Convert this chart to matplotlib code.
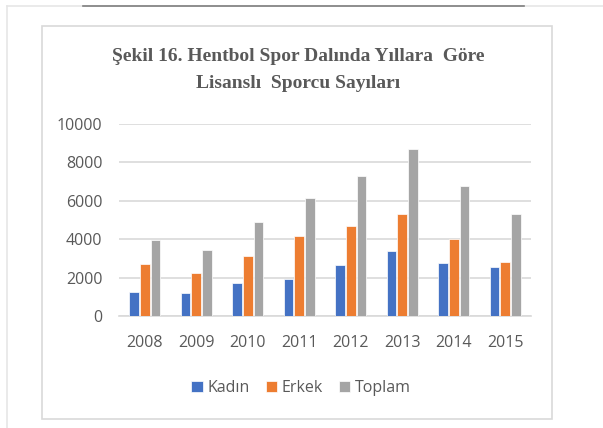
import numpy as np
import matplotlib
matplotlib.use('Agg')
import matplotlib.pyplot as plt
from matplotlib.lines import Line2D
from matplotlib.patches import Rectangle

years = ['2008', '2009', '2010', '2011', '2012', '2013', '2014', '2015']
kadin = [1230, 1180, 1740, 1910, 2640, 3370, 2740, 2540]
erkek = [2690, 2240, 3140, 4150, 4670, 5330, 3990, 2810]
toplam = [3960, 3420, 4880, 6130, 7310, 8720, 6750, 5330]

series = ['Kadın', 'Erkek', 'Toplam']
colors = ['#4472C4', '#ED7D31', '#A5A5A5']

W, H = 603, 428
fig = plt.figure(figsize=(W / 100, H / 100), dpi=100)

# outer page frame and chart frame
fig.add_artist(Line2D([7 / W, 1], [1 - 6 / H, 1 - 6 / H], color='#e6e6e6', lw=1.2))
fig.add_artist(Line2D([83 / W, 524 / W], [1 - 6 / H, 1 - 6 / H], color='#7f7f7f', lw=1.2))
fig.add_artist(Line2D([7 / W, 7 / W], [0, 1 - 6 / H], color='#e6e6e6', lw=1.2))
fig.add_artist(Rectangle((42 / W, 1 - 419 / H), (552 - 42) / W, (419 - 26) / H,
                         fill=False, edgecolor='#d9d9d9', lw=1.2))

ax = fig.add_axes([119 / W, 1 - 316 / H, (531 - 119) / W, (316 - 124) / H])

x = np.arange(len(years))
w = 0.19
step = 0.21
for i, (vals, name) in enumerate(zip([kadin, erkek, toplam], series)):
    ax.bar(x + (i - 1) * step, vals, w, color=colors[i], label=name,
           edgecolor='white', linewidth=0.5, zorder=3)

ax.set_xlim(-0.5, len(years) - 0.5)
ax.set_ylim(0, 10000)
ax.set_yticks(range(0, 10001, 2000))
ax.set_xticks(x)
ax.set_xticklabels(years)
ax.grid(axis='y', color='#d9d9d9', lw=1.2, zorder=0)
for s in ['top', 'right', 'left']:
    ax.spines[s].set_visible(False)
ax.spines['bottom'].set_color('#d9d9d9')
ax.spines['bottom'].set_linewidth(1.2)
ax.tick_params(length=0, labelcolor='#595959', labelsize=11.5)
ax.tick_params(axis='y', pad=12)
ax.tick_params(axis='x', pad=13.5)
for lab in ax.get_xticklabels() + ax.get_yticklabels():
    lab.set_family('Open Sans')

fig.text(298 / W, 1 - 57 / H, 'Şekil 16. Hentbol Spor Dalında Yıllara  Göre',
         ha='center', va='center', family='Liberation Serif', weight='bold',
         fontsize=14, color='#595959')
fig.text(298 / W, 1 - 84 / H, 'Lisanslı  Sporcu Sayıları',
         ha='center', va='center', family='Liberation Serif', weight='bold',
         fontsize=14, color='#595959')

leg = fig.legend(loc='center', bbox_to_anchor=(301 / W, 1 - 388 / H), ncol=3,
                 frameon=False, handlelength=0.7, handleheight=0.7,
                 handletextpad=0.3, columnspacing=1.0,
                 prop={'family': 'Open Sans', 'size': 11.5})
for t in leg.get_texts():
    t.set_color('#595959')

fig.savefig('out.png', dpi=100)
